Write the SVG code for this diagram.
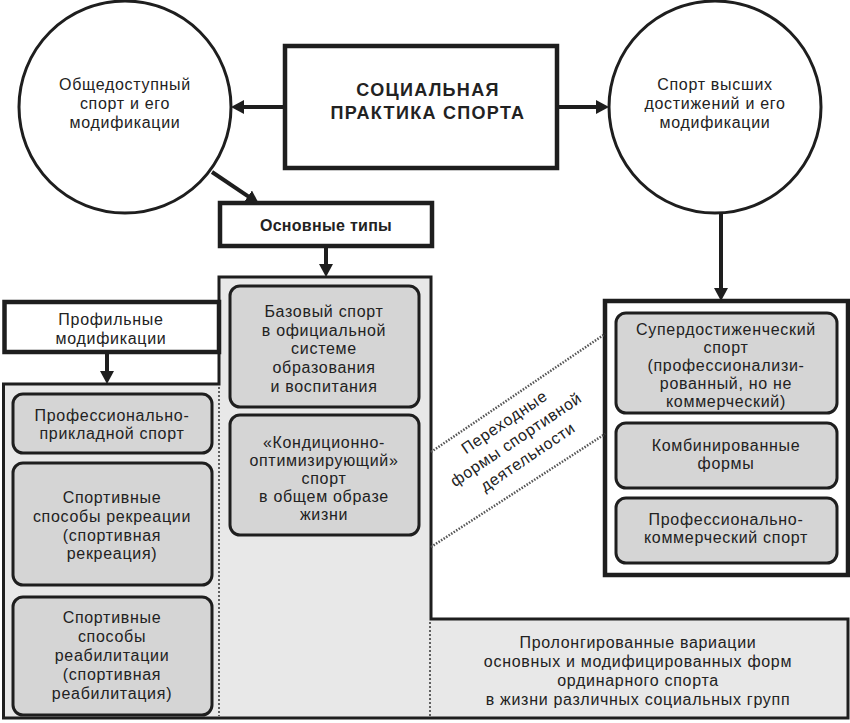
<svg xmlns="http://www.w3.org/2000/svg" width="850" height="723" viewBox="0 0 850 723">
<defs>
<style>
text{font-family:"Liberation Sans",Arial,sans-serif;font-size:16px;letter-spacing:0.7px;fill:#222;text-anchor:middle}
.b{font-weight:bold;letter-spacing:0.3px}
.title{font-weight:bold;font-size:18px;letter-spacing:1.3px}
.circ{fill:#fff;stroke:#1e1e1e;stroke-width:3}
.frame{fill:#fff;stroke:#1e1e1e;stroke-width:4.5}
.box{fill:#d5d5d5;stroke:#1e1e1e;stroke-width:3}
.panel{fill:#e8e8e8;stroke:#1e1e1e;stroke-width:3}
.dot{stroke:#333;stroke-width:1.5;stroke-dasharray:2 2;fill:none}
.diag{stroke:#555;stroke-width:2.5;stroke-dasharray:1.5 1.5;fill:none}
.arr{stroke:#1e1e1e;stroke-width:4;fill:none;marker-end:url(#ah)}
</style>
<marker id="ah" markerUnits="userSpaceOnUse" markerWidth="14" markerHeight="14" refX="6" refY="7" orient="auto" viewBox="0 0 14 14">
<path d="M0,0 L13,7 L0,14 z" fill="#1e1e1e"/>
</marker>
</defs>
<rect width="850" height="723" fill="#fff"/>

<g id="panel">
<polygon class="panel" points="219,277 431,277 431,619 848,619 848,718 3.5,718 3.5,384 219,384"/>
<line class="dot" x1="219" y1="387" x2="219" y2="716"/>
<line class="dot" x1="430" y1="622" x2="430" y2="716"/>
</g>

<g id="left-circle">
<circle class="circ" cx="125" cy="107" r="106"/>
<text x="125" y="90">Общедоступный</text>
<text x="125" y="109">спорт и его</text>
<text x="125" y="128">модификации</text>
</g>

<g id="center">
<rect class="frame" x="285" y="46" width="272" height="122"/>
<text class="title" x="428" y="96">СОЦИАЛЬНАЯ</text>
<text class="title" x="428" y="119">ПРАКТИКА СПОРТА</text>
</g>

<g id="right-circle">
<circle class="circ" cx="715" cy="107" r="106"/>
<text x="715" y="90">Спорт высших</text>
<text x="715" y="109">достижений и его</text>
<text x="715" y="128">модификации</text>
</g>

<g id="basic-types">
<rect class="frame" x="220" y="203" width="212" height="43"/>
<text class="b" x="326" y="231">Основные типы</text>
</g>

<g id="profile">
<rect class="frame" x="4.5" y="302" width="214.5" height="50"/>
<text x="111" y="325">Профильные</text>
<text x="111" y="344">модификации</text>
</g>

<g id="base-sport">
<rect class="box" x="230" y="286" width="189" height="121" rx="10"/>
<text x="324" y="317">Базовый спорт</text>
<text x="324" y="335.5">в официальной</text>
<text x="324" y="354">системе</text>
<text x="324" y="373">образования</text>
<text x="324" y="392">и воспитания</text>
</g>

<g id="condition-sport">
<rect class="box" x="230" y="415" width="189" height="120" rx="10"/>
<text x="324" y="448">«Кондиционно-</text>
<text x="324" y="466">оптимизирующий»</text>
<text x="324" y="484">спорт</text>
<text x="324" y="502">в общем образе</text>
<text x="324" y="520">жизни</text>
</g>

<g id="applied-sport">
<rect class="box" x="13" y="394" width="199" height="59" rx="10"/>
<text x="112" y="421">Профессионально-</text>
<text x="112" y="439">прикладной спорт</text>
</g>

<g id="recreation">
<rect class="box" x="13" y="463" width="199" height="122" rx="10"/>
<text x="112" y="503">Спортивные</text>
<text x="112" y="522">способы рекреации</text>
<text x="112" y="541">(спортивная</text>
<text x="112" y="559">рекреация)</text>
</g>

<g id="rehabilitation">
<rect class="box" x="13" y="597" width="199" height="118" rx="10"/>
<text x="112" y="623">Спортивные</text>
<text x="112" y="642">способы</text>
<text x="112" y="661">реабилитации</text>
<text x="112" y="680">(спортивная</text>
<text x="112" y="699">реабилитация)</text>
</g>

<g id="right-frame">
<rect class="frame" x="605" y="301" width="243" height="274"/>
</g>

<g id="super-sport">
<rect class="box" x="616" y="313" width="221" height="100" rx="10"/>
<text x="726" y="335">Супердостиженческий</text>
<text x="726" y="353">спорт</text>
<text x="726" y="371">(профессионализи-</text>
<text x="726" y="389">рованный, но не</text>
<text x="726" y="407">коммерческий)</text>
</g>

<g id="combined">
<rect class="box" x="616" y="423" width="221" height="65" rx="10"/>
<text x="726" y="451">Комбинированные</text>
<text x="726" y="469">формы</text>
</g>

<g id="pro-commercial">
<rect class="box" x="616" y="498" width="221" height="65" rx="10"/>
<text x="726" y="525">Профессионально-</text>
<text x="726" y="543">коммерческий спорт</text>
</g>

<g id="transitional">
<line class="diag" x1="431" y1="452" x2="605" y2="334"/>
<line class="diag" x1="431" y1="547" x2="605" y2="434"/>
<g transform="translate(519,444) rotate(-34)">
<text x="0" y="-21">Переходные</text>
<text x="0" y="0">формы спортивной</text>
<text x="0" y="21">деятельности</text>
</g>
</g>

<g id="prolonged">
<text x="638" y="648">Пролонгированные вариации</text>
<text x="638" y="667">основных и модифицированных форм</text>
<text x="638" y="686">ординарного спорта</text>
<text x="638" y="705">в жизни различных социальных групп</text>
</g>

<g id="connectors">
<line class="arr" x1="285" y1="107" x2="238" y2="107"/>
<line class="arr" x1="557" y1="107" x2="602" y2="107"/>
<line class="arr" x1="212" y1="172" x2="253" y2="199.6"/>
<line class="arr" x1="326" y1="246" x2="326" y2="270"/>
<line class="arr" x1="721" y1="213" x2="721" y2="294"/>
<line class="arr" x1="107" y1="352" x2="107" y2="377"/>
</g>
</svg>
